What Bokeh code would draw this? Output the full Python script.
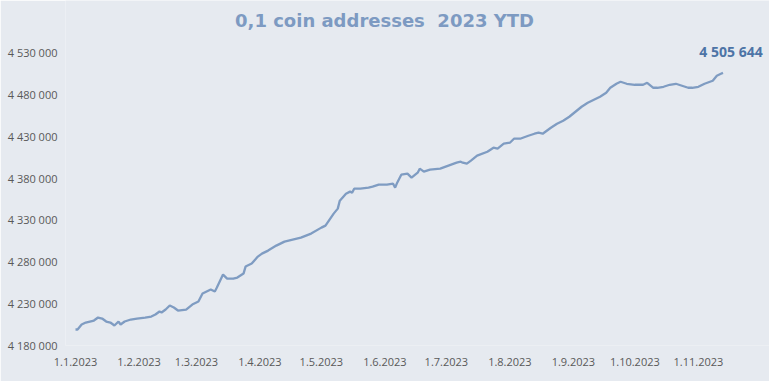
import pandas as pd
from bokeh.plotting import figure
from bokeh.models import FixedTicker, Label, ColumnDataSource, Range1d
from bokeh.embed import file_html
from bokeh.resources import INLINE

title_text = "0,1 coin addresses\u00a0\u00a02023 YTD"

dates = [
    "2023-01-01", "2023-01-02", "2023-01-04", "2023-01-06", "2023-01-08", "2023-01-10",
    "2023-01-12", "2023-01-14", "2023-01-16", "2023-01-18", "2023-01-20", "2023-01-22",
    "2023-01-23", "2023-01-25", "2023-01-28", "2023-01-31", "2023-02-04", "2023-02-07",
    "2023-02-09", "2023-02-11", "2023-02-12", "2023-02-14", "2023-02-16", "2023-02-18",
    "2023-02-20", "2023-02-24", "2023-02-27", "2023-03-02", "2023-03-04", "2023-03-08",
    "2023-03-10", "2023-03-11", "2023-03-14", "2023-03-16", "2023-03-19", "2023-03-21",
    "2023-03-24", "2023-03-25", "2023-03-28", "2023-03-31", "2023-04-02", "2023-04-05",
    "2023-04-09", "2023-04-13", "2023-04-17", "2023-04-21", "2023-04-26", "2023-05-01",
    "2023-05-03", "2023-05-04", "2023-05-07", "2023-05-09", "2023-05-10", "2023-05-13",
    "2023-05-15", "2023-05-16", "2023-05-17", "2023-05-20", "2023-05-24", "2023-05-26",
    "2023-05-29", "2023-06-02", "2023-06-05", "2023-06-06", "2023-06-07", "2023-06-09",
    "2023-06-12", "2023-06-14", "2023-06-17", "2023-06-18", "2023-06-20", "2023-06-23",
    "2023-06-28", "2023-07-02", "2023-07-06", "2023-07-08", "2023-07-09", "2023-07-11",
    "2023-07-13", "2023-07-16", "2023-07-21", "2023-07-24", "2023-07-26", "2023-07-29",
    "2023-08-01", "2023-08-03", "2023-08-06", "2023-08-10", "2023-08-13", "2023-08-15",
    "2023-08-17", "2023-08-21", "2023-08-24", "2023-08-27", "2023-08-30", "2023-09-02",
    "2023-09-05", "2023-09-08", "2023-09-11", "2023-09-14", "2023-09-17", "2023-09-19",
    "2023-09-22", "2023-09-24", "2023-09-27", "2023-10-01", "2023-10-05", "2023-10-07",
    "2023-10-10", "2023-10-12", "2023-10-15", "2023-10-18", "2023-10-21", "2023-10-24",
    "2023-10-27", "2023-10-29", "2023-11-01", "2023-11-04", "2023-11-08", "2023-11-10",
    "2023-11-12", "2023-11-13",
]

values = [
    4199100, 4199100, 4205060, 4207450, 4208640, 4209830,
    4213410, 4212220, 4208640, 4207450, 4203870, 4208640,
    4205060, 4208640, 4211030, 4212220, 4213410, 4214610,
    4216990, 4220570, 4219380, 4222960, 4227730, 4225350,
    4221770, 4222960, 4228930, 4232500, 4242050, 4246820,
    4244440, 4249210, 4264720, 4259950, 4259950, 4261140,
    4265920, 4274270, 4277850, 4286200, 4289780, 4293360,
    4299330, 4304100, 4306490, 4308880, 4313650, 4320810,
    4323200, 4326780, 4337520, 4343480, 4353030, 4361380,
    4363770, 4362580, 4367350, 4367350, 4368540, 4369730,
    4372120, 4372120, 4373310, 4368540, 4374510, 4384050,
    4385250, 4380470, 4386440, 4391210, 4387630, 4390020,
    4391210, 4394790, 4398370, 4399570, 4398370, 4397180,
    4400760, 4406730, 4411500, 4416270, 4415080, 4421050,
    4422240, 4427010, 4427010, 4430590, 4432980, 4434170,
    4432980, 4440140, 4444910, 4448490, 4453270, 4459230,
    4465200, 4469970, 4473550, 4477130, 4481900, 4487870,
    4492640, 4495030, 4492640, 4491450, 4491450, 4493840,
    4487870, 4487870, 4489060, 4491450, 4492640, 4490260,
    4487870, 4487870, 4489060, 4492640, 4496220, 4502190,
    4504580, 4505644,
]

y_ticks = [4180000, 4230000, 4280000, 4330000, 4380000, 4430000, 4480000, 4530000]

month_ticks = ["2023-01-01", "2023-02-01", "2023-03-01", "2023-04-01", "2023-05-01",
               "2023-06-01", "2023-07-01", "2023-08-01", "2023-09-01", "2023-10-01",
               "2023-11-01"]
month_labels = ["1.1.2023", "1.2.2023", "1.3.2023", "1.4.2023", "1.5.2023", "1.6.2023",
                "1.7.2023", "1.8.2023", "1.9.2023", "1.10.2023", "1.11.2023"]

last_label = "4 505 644"

BG = "#E6EAF0"
LINE = "#7F9CC2"
AXIS_TXT = "#595959"

start = pd.Timestamp("2023-01-01")
xs = [(pd.Timestamp(d) - start).days for d in dates]
tx = [(pd.Timestamp(d) - start).days for d in month_ticks]

# frame: x 65..769, y 0..345 (canvas px)
p = figure(width=769, height=381, output_backend="svg", toolbar_location=None,
           x_range=Range1d(-4.88, 338.7), y_range=Range1d(4180000, 4592116),
           min_border_left=65, min_border_right=0, min_border_bottom=36, min_border_top=0)
p.background_fill_color = BG
p.border_fill_color = BG
p.outline_line_color = None
p.grid.visible = False

src = ColumnDataSource(dict(x=xs, y=values))
p.line("x", "y", source=src, line_color=LINE, line_width=2.3)

p.xaxis.ticker = FixedTicker(ticks=tx)
p.xaxis.major_label_overrides = {t: l for t, l in zip(tx, month_labels)}
p.yaxis.ticker = FixedTicker(ticks=y_ticks)
p.yaxis.major_label_overrides = {t: f"{t:,}".replace(",", " ") for t in y_ticks}

for ax in (p.xaxis, p.yaxis):
    ax.axis_line_color = None
    ax.major_tick_line_color = None
    ax.minor_tick_line_color = None
    ax.major_tick_out = 0
    ax.major_tick_in = 0
    ax.major_label_text_font = "Open Sans"
    ax.major_label_text_font_size = "11px"
    ax.major_label_text_color = AXIS_TXT
p.xaxis.major_label_standoff = 12
p.yaxis.major_label_standoff = 8

# title (frame-relative screen units)
p.add_layout(Label(x=319, y=325, x_units="screen", y_units="screen", text=title_text,
                   text_align="center", text_baseline="middle", text_font="DejaVu Sans",
                   text_font_style="bold", text_font_size="18px", text_color="#7D9AC2"))

p.add_layout(Label(x=xs[-1], y=values[-1], text=last_label, x_offset=8, y_offset=21,
                   text_align="center", text_baseline="middle", text_font="Open Sans",
                   text_font_style="bold", text_font_size="14px", text_color="#4D74A6"))

html = file_html(p, INLINE)
html = html.replace("<body>", f'<body style="background:{BG};">', 1)
open("out.html", "w").write(html)
